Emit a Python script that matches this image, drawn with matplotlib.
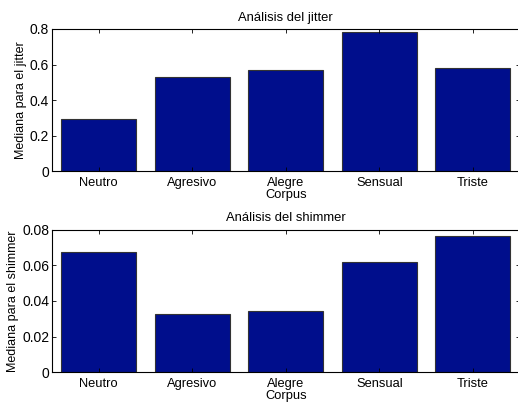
import matplotlib
matplotlib.use("Agg")
import matplotlib.pyplot as plt
import numpy as np

categories = ["Neutro", "Agresivo", "Alegre", "Sensual", "Triste"]
jitter = [0.293, 0.528, 0.569, 0.785, 0.580]
shimmer = [0.0673, 0.0329, 0.0344, 0.0617, 0.0766]
jitter_ticks = [0, 0.2, 0.4, 0.6, 0.8]
jitter_ticklabels = ["0", "0.2", "0.4", "0.6", "0.8"]
shimmer_ticks = [0, 0.02, 0.04, 0.06, 0.08]
shimmer_ticklabels = ["0", "0.02", "0.04", "0.06", "0.08"]

plt.rcParams['font.family'] = ['Liberation Sans', 'DejaVu Sans']
fig = plt.figure(figsize=(5.18, 4.05), dpi=100)

W, H = 518, 405
def pos(l, t, r, b):
    return [l / W, 1 - b / H, (r - l) / W, (b - t) / H]

panels = [
    (pos(52, 29, 519.5, 171), jitter, jitter_ticks, jitter_ticklabels,
     "Análisis del jitter", "Mediana para el jitter", 0.8),
    (pos(52, 229.7, 519.5, 372.3), shimmer, shimmer_ticks, shimmer_ticklabels,
     "Análisis del shimmer", "Mediana para el shimmer", 0.08),
]

x = np.arange(1, len(categories) + 1)
for rect, vals, ticks, tlabels, title, ylabel, ymax in panels:
    ax = fig.add_axes(rect)
    ax.bar(x, vals, width=0.8, color='#000e8c', edgecolor='#333333', linewidth=0.8)
    ax.set_xlim(0.5, 5.5)
    ax.set_ylim(0, ymax)
    ax.set_xticks(x)
    ax.set_xticklabels(categories, fontsize=9.3)
    ax.set_yticks(ticks)
    ax.set_yticklabels(tlabels, fontsize=10)
    ax.tick_params(direction='in', top=True, right=True, length=3, width=0.6, pad=2)
    ax.tick_params(axis='x', pad=4)
    ax.set_xlabel("Corpus", fontsize=9.3, labelpad=0)
    ax.set_ylabel(ylabel, fontsize=9, labelpad=2)
    ax.set_title(title, fontsize=9.4, pad=6)
    for s in ax.spines.values():
        s.set_linewidth(0.8)

fig.savefig("out.png", dpi=100)
